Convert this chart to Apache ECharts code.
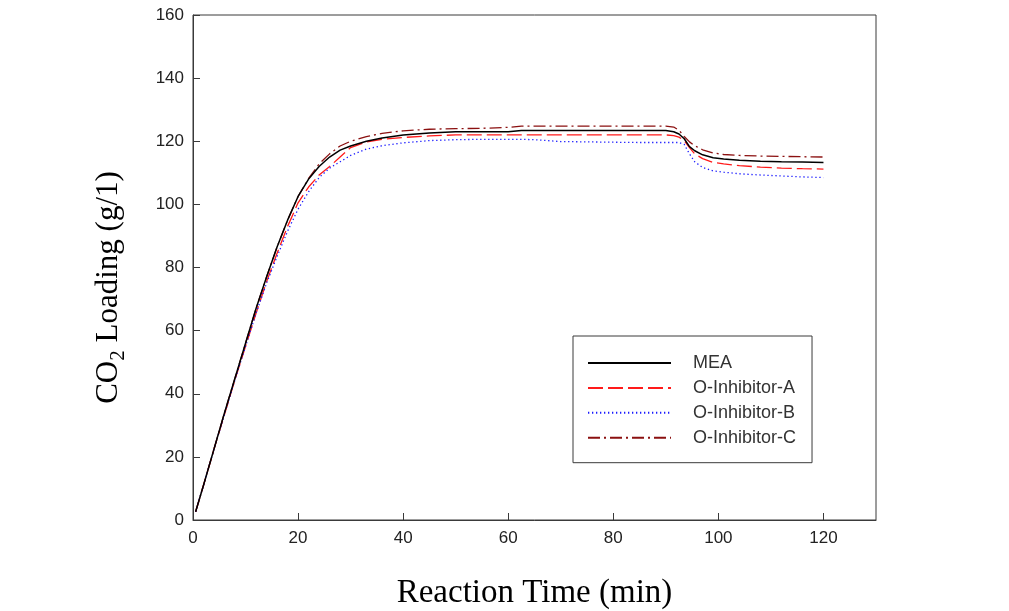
<!DOCTYPE html>
<html>
<head>
<meta charset="utf-8">
<script src="https://cdn.jsdelivr.net/npm/echarts@6/dist/echarts.min.js"></script>
<style>
html,body{margin:0;padding:0;background:#fff;}
#chart{width:1009px;height:611px;}
</style>
</head>
<body>
<div id="chart"></div>
<script>
// Reaction time (min)
const time = [0.5, 2, 4, 6, 8, 10, 12, 14, 16, 18, 20, 22, 24, 26, 28, 30, 33, 36, 40, 45, 50, 55, 60, 62.5, 65, 70, 75, 80, 85, 90, 91.5, 92.5, 93.5, 94.5, 95.5, 97, 99, 101, 104, 108, 112, 116, 120];
// CO2 loading (g/l)
const mea = [2.6, 11, 22.5, 34, 45, 56, 67, 77, 86.5, 95, 102.5, 108, 112, 115, 117.2, 118.5, 120, 121, 122, 122.6, 123, 123, 123, 123.4, 123.4, 123.4, 123.4, 123.4, 123.4, 123.4, 123, 122.3, 120.8, 118.3, 117, 115.7, 114.8, 114.4, 114, 113.7, 113.5, 113.4, 113.3];
const inhibitorA = [2.6, 11, 22.5, 33.5, 44.5, 55, 65.5, 75.5, 84.5, 93, 100.5, 105.5, 109.3, 112, 115, 118, 119.8, 120.6, 121.2, 121.7, 122, 122, 122, 122, 122, 122, 122, 122, 122, 122, 121.8, 121.3, 120.2, 118, 116, 114.5, 113.3, 112.8, 112.3, 111.8, 111.5, 111.3, 111.2];
const inhibitorB = [2.6, 11, 22.5, 33.5, 44.5, 55, 65.5, 75, 83.5, 91.5, 98.5, 104, 108.5, 111.5, 113.5, 115.5, 117.5, 118.6, 119.5, 120.2, 120.5, 120.6, 120.6, 120.6, 120.5, 119.9, 119.8, 119.7, 119.6, 119.6, 119.6, 119.6, 119, 116, 113.5, 111.7, 110.6, 110.2, 109.7, 109.3, 109, 108.7, 108.5];
const inhibitorC = [2.6, 11, 22.5, 34, 45, 56, 67, 77, 86.5, 95, 102.5, 108.2, 112.8, 116, 118.5, 120, 121.5, 122.5, 123.3, 123.8, 124, 124.1, 124.4, 124.8, 124.8, 124.8, 124.8, 124.8, 124.8, 124.8, 124.5, 123.5, 121.5, 119.8, 118.6, 117.3, 116.3, 115.8, 115.5, 115.3, 115.2, 115.1, 115.0];
const seriesNames = ['MEA', 'O-Inhibitor-A', 'O-Inhibitor-B', 'O-Inhibitor-C'];
const xTicks = [0, 20, 40, 60, 80, 100, 120];
const yTicks = [0, 20, 40, 60, 80, 100, 120, 140, 160];

const pair = arr => time.map((t, i) => [t, arr[i]]);
const chart = echarts.init(document.getElementById('chart'), null, {renderer: 'canvas'});
const axisCol = '#3a3a3a';
const lineBase = {type: 'line', showSymbol: false, symbol: 'none', smooth: false, animation: false};

chart.setOption({
  backgroundColor: '#ffffff',
  animation: false,
  grid: {left: 193, top: 15, right: 133, bottom: 91, containLabel: false, outerBoundsMode: 'none', show: true, borderColor: axisCol, borderWidth: 1},
  legend: {
    orient: 'vertical', left: 573, top: 336,
    padding: [18, 16, 16, 14],
    itemWidth: 83, itemHeight: 14, itemGap: 6.9,
    borderColor: axisCol, borderWidth: 1,
    backgroundColor: '#fff',
    itemStyle: {color: 'rgba(0,0,0,0)', borderWidth: 0, opacity: 0},
    textStyle: {fontFamily: 'Liberation Sans, Arial, sans-serif', fontSize: 18, color: '#333', padding: [0, 0, 0, 17]},
    data: seriesNames
  },
  xAxis: {
    type: 'value', min: 0, max: 130, interval: 10,
    name: 'Reaction Time (min)', nameLocation: 'middle', nameGap: 57,
    nameTextStyle: {fontFamily: 'Liberation Serif, Times New Roman, serif', fontSize: 33, color: '#000'},
    axisLine: {lineStyle: {color: axisCol, width: 1}},
    axisTick: {inside: true, length: 7, lineStyle: {color: axisCol}, customValues: xTicks},
    axisLabel: {customValues: xTicks, fontFamily: 'Liberation Sans, Arial, sans-serif', fontSize: 17, color: '#222', margin: 10},
    splitLine: {show: false}
  },
  yAxis: {
    type: 'value', min: 0, max: 160, interval: 20,
    name: '{a|CO}{s|2}{a| Loading (g/1)}', nameLocation: 'middle', nameGap: 64, nameRotate: 90,
    nameTextStyle: {
      padding: [0, 40, 0, 0],
      rich: {
        a: {fontFamily: 'Liberation Serif, Times New Roman, serif', fontSize: 31, color: '#000', lineHeight: 40},
        s: {fontFamily: 'Liberation Serif, Times New Roman, serif', fontSize: 21, color: '#000', lineHeight: 16, verticalAlign: 'bottom'}
      }
    },
    axisLine: {lineStyle: {color: axisCol, width: 1}},
    axisTick: {inside: true, length: 7, lineStyle: {color: axisCol}, customValues: yTicks},
    axisLabel: {customValues: yTicks, fontFamily: 'Liberation Sans, Arial, sans-serif', fontSize: 17, color: '#222', margin: 9},
    splitLine: {show: false}
  },
  series: [
    Object.assign({}, lineBase, {name: seriesNames[0], data: pair(mea), z: 5, lineStyle: {color: '#000000', width: 1.5, type: 'solid'}, itemStyle: {color: '#000000'}}),
    Object.assign({}, lineBase, {name: seriesNames[1], data: pair(inhibitorA), lineStyle: {color: '#ff1a1a', width: 1.3, type: [15, 5]}, itemStyle: {color: '#ff1a1a'}}),
    Object.assign({}, lineBase, {name: seriesNames[2], data: pair(inhibitorB), lineStyle: {color: '#1a1aff', width: 1.3, type: [1.3, 2.7]}, itemStyle: {color: '#1a1aff'}}),
    Object.assign({}, lineBase, {name: seriesNames[3], data: pair(inhibitorC), lineStyle: {color: '#8b1010', width: 1.3, type: [12, 4, 2, 4]}, itemStyle: {color: '#8b1010'}})
  ]
});
</script>
</body>
</html>
